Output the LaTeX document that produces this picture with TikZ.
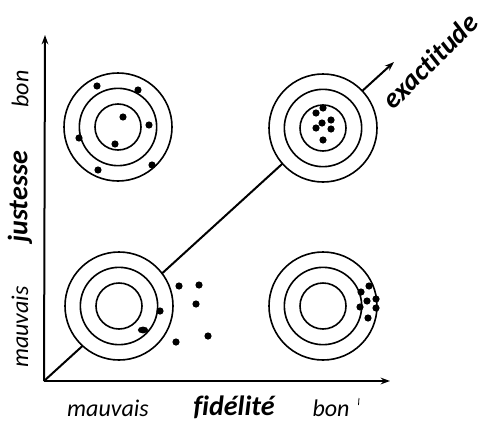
\documentclass[tikz,border=0pt]{standalone}
\usepackage{fontspec}
\setmainfont{Carlito}[Ligatures=NoCommon]
\usetikzlibrary{arrows.meta}
\begin{document}
\begin{tikzpicture}[x=0.75pt,y=-0.75pt,
  axis/.style={line width=1.5pt,-{Stealth[length=7pt,width=5pt]}},
  ring/.style={circle,draw,line width=1.2pt,inner sep=0pt},
  outer/.style={ring,fill=white,minimum size=81pt},
  middle/.style={ring,minimum size=58pt},
  inner/.style={ring,minimum size=34.5pt},
  hit/.style={fill=black},
  lab/.style={font=\fontsize{18}{20}\selectfont\itshape,inner sep=0pt},
  title/.style={font=\fontsize{21}{23}\selectfont\bfseries\itshape,inner sep=0pt}]
\useasboundingbox (0,0) rectangle (478,421);

% axes
\coordinate (O) at (44,381);
\coordinate (ytip) at (45,35);
\coordinate (xtip) at (390,381);
\coordinate (dtip) at (394,62);
\draw[axis] (O) -- (ytip);
\draw[axis] (O) -- (xtip);
\draw[axis] (O) -- (dtip);

% targets
\newcommand{\target}[2]{%
  \node[outer] (#1o) at #2 {};
  \node[middle] (#1m) at #2 {};
  \node[inner] (#1i) at #2 {};}
\target{tl}{(118,127)}
\target{tr}{(323,128)}
\target{bl}{(119,306)}
\target{br}{(323,306)}

% hits: top left
\foreach \p in {(97,86),(138,90),(123,117),(149,125),(79,138),(115,144),(98,170),(152,165)}
  \fill[hit] \p circle (3.6);
% hits: top right
\foreach \p in {(323,108),(316,113),(322,123),(331,120),(316,128),(331,129),(323,140)}
  \fill[hit] \p circle (3.6);
% hits: bottom left
\foreach \p in {(160,311),(179,286),(199,285),(196,304),(176,342),(208,336)}
  \fill[hit] \p circle (3.6);
\fill[hit] (143,330) ellipse [x radius=5.2, y radius=3.4];
% hits: bottom right
\foreach \p in {(361,292),(369,286),(367,301),(376,299),(360,307),(376,308),(368,318)}
  \fill[hit] \p circle (3.6);

% labels
\node[lab,rotate=90] (ybon) at (20,89) {bon};
\node[title,rotate=90] (yname) at (20,197) {justesse};
\node[lab,rotate=90] (ybad) at (20,327) {mauvais};
\node[lab] (xbad) at (108,408) {mauvais};
\node[title] (xname) at (234,407) {fidélité};
\node[lab] (xbon) at (331,408) {bon};
\draw[line width=0.6pt] (359,398) -- (358.5,405);
\node[title,rotate=45] (dname) at (430,61) {exactitude};
\end{tikzpicture}
\end{document}
